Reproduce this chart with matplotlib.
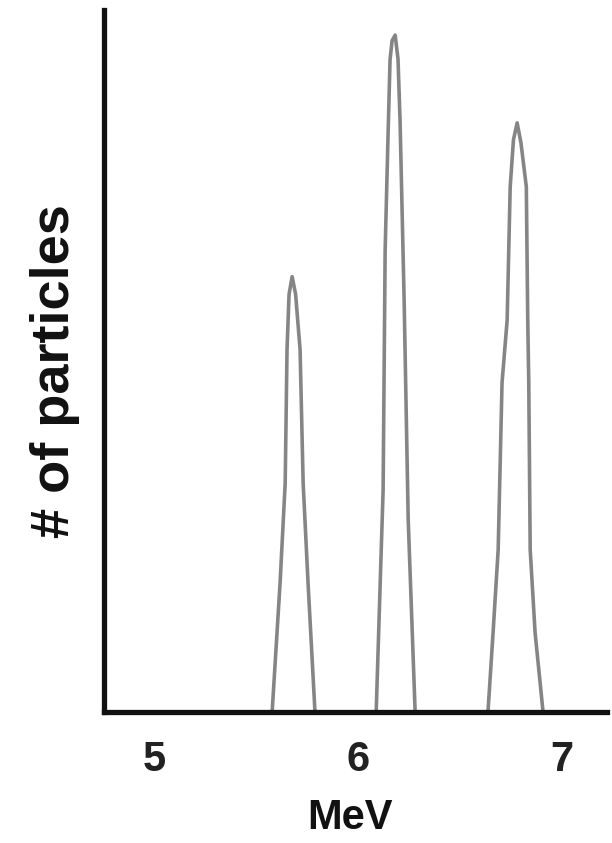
import matplotlib.pyplot as plt

# energy (MeV) / counts, one tent per peak
peak1_x = [5.580, 5.619, 5.644, 5.653, 5.663, 5.678, 5.695, 5.717, 5.732, 5.756, 5.790]
peak1_y = [0, 18.4, 32.6, 51.6, 59.5, 62.0, 59.5, 51.6, 32.6, 18.4, 0]

peak2_x = [6.090, 6.124, 6.134, 6.148, 6.158, 6.168, 6.183, 6.197, 6.207, 6.227, 6.247, 6.281]
peak2_y = [0, 31.6, 65.8, 81.9, 92.9, 95.6, 96.4, 93.0, 84.3, 58.7, 27.4, 0]

peak3_x = [6.638, 6.663, 6.688, 6.707, 6.732, 6.747, 6.763, 6.781, 6.800, 6.826, 6.833, 6.838, 6.845, 6.869, 6.908]
peak3_y = [0, 11.3, 23.1, 46.9, 55.8, 74.8, 81.5, 83.9, 81.0, 74.8, 55.8, 46.9, 23.1, 11.3, 0]

ticks = [5, 6, 7]
tick_labels = ["5", "6", "7"]

plt.rcParams['font.family'] = ['Liberation Sans', 'DejaVu Sans']

fig = plt.figure(figsize=(6.12, 8.43), dpi=100)
ax = fig.add_axes([0.170, 0.1554, 0.822, 0.833])

for px, py in [(peak1_x, peak1_y), (peak2_x, peak2_y), (peak3_x, peak3_y)]:
    ax.plot(px, py, color='#858585', lw=2.6, solid_joinstyle='round')

ax.set_xlim(4.756, 7.222)
ax.set_ylim(0, 100)

for s in ['top', 'right']:
    ax.spines[s].set_visible(False)
for s in ['left', 'bottom']:
    ax.spines[s].set_linewidth(3.8)
    ax.spines[s].set_color('#111111')

ax.set_yticks([])
ax.set_xticks(ticks)
ax.set_xticklabels(tick_labels, fontsize=30, fontweight='bold', color='#222222')
ax.tick_params(axis='x', length=0, pad=20)

ax.set_xlabel("MeV", fontsize=30, fontweight='bold', color='#111111')
ax.xaxis.set_label_coords(0.489, -0.122)
ax.set_ylabel("# of particles", fontsize=39, fontweight='bold', color='#111111')
ax.yaxis.set_label_coords(-0.048, 0.485)

fig.savefig("out.png", dpi=100)
